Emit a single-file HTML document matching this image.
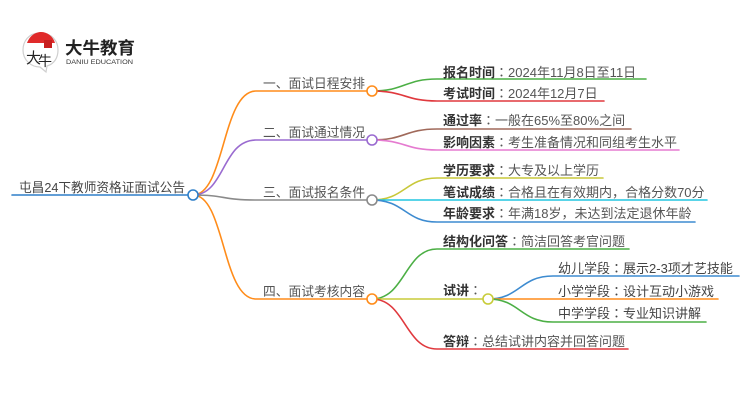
<!DOCTYPE html>
<html><head><meta charset="utf-8"><style>
html,body{margin:0;padding:0;background:#fff;}
svg{display:block;}
text{font-family:"Liberation Sans","Noto Sans CJK SC",sans-serif;}
.c{font-family:"Noto Sans CJK JP",sans-serif;}
</style></head><body>
<svg width="750" height="410" viewBox="0 0 750 410" xmlns="http://www.w3.org/2000/svg">
<!-- logo -->
<g>
  <path d="M40,33 C28,33 23,42 23,50 C23,60 31,67 40,67 L46,72 L47,66 C54,64 58,58 58,50 C58,41 52,33 40,33 Z" fill="#fff" stroke="#cfcfcf" stroke-width="1.2"/>
  <path d="M27,43 C30,35 36,32 41,32 C47,32 53,36 55,43 Z" fill="#e02a2a"/>
  <rect x="44" y="40" width="8" height="8" fill="#c81e1e"/>
  <text x="26" y="63" font-size="15" fill="#222" font-family="'Noto Serif CJK SC',serif">大</text>
  <text x="38" y="66" font-size="14" fill="#222" font-family="'Noto Serif CJK SC',serif">牛</text>
  <text x="65" y="54" font-size="17" font-weight="bold" fill="#222" textLength="70" lengthAdjust="spacingAndGlyphs">大牛教育</text>
  <text x="66" y="64" font-size="6.5" fill="#333" textLength="67" lengthAdjust="spacingAndGlyphs">DANIU EDUCATION</text>
</g>

<g fill="none" stroke-width="1.6" stroke-linecap="round">
  <line x1="12" y1="195" x2="188" y2="195" stroke="#2f7fc8"/>
  <path d="M193,195 C225,195 222,91 256,91 L367,91" stroke="#ff8c1a"/>
  <path d="M193,195 C225,195 222,140 256,140 L367,140" stroke="#9a6bd0"/>
  <path d="M193,195 C225,195 222,200 256,200 L367,200" stroke="#8a8a8a"/>
  <path d="M193,195 C225,195 222,299 256,299 L367,299" stroke="#ff8c1a"/>
  <path d="M372,91 C405,91 405,79 437,79 L646,79" stroke="#4caf45"/>
  <path d="M372,91 C405,91 405,101 437,101 L604,101" stroke="#e0393e"/>
  <path d="M372,140 C405,140 405,129 437,129 L631,129" stroke="#a0695a"/>
  <path d="M372,140 C405,140 405,150 437,150 L679,150" stroke="#e57bd0"/>
  <path d="M372,200 C405,200 405,178 437,178 L603,178" stroke="#c8c83a"/>
  <path d="M372,200 L707,200" stroke="#22c5e0"/>
  <path d="M372,200 C405,200 405,222 437,222 L695,222" stroke="#3d8bd0"/>
  <path d="M372,299 C405,299 405,249 437,249 L629,249" stroke="#4caf45"/>
  <path d="M372,299 L483,299" stroke="#c8cc3a"/>
  <path d="M372,299 C405,299 405,349 437,349 L628,349" stroke="#e0393e"/>
  <path d="M488,299 C520,299 520,276 553,276 L739,276" stroke="#3d8bd0"/>
  <path d="M488,299 L718,299" stroke="#ff8c1a"/>
  <path d="M488,299 C520,299 520,322 553,322 L706,322" stroke="#4caf45"/>
</g>

<g fill="#fff" stroke-width="1.6">
  <circle cx="193" cy="195" r="5" stroke="#2f7fc8"/>
  <circle cx="372" cy="91" r="5" stroke="#ff8c1a"/>
  <circle cx="372" cy="140" r="5" stroke="#9a6bd0"/>
  <circle cx="372" cy="200" r="5" stroke="#8a8a8a"/>
  <circle cx="372" cy="299" r="5" stroke="#ff8c1a"/>
  <circle cx="488" cy="299" r="5" stroke="#c8cc3a"/>
</g>

<g font-size="13" fill="#444">
  <text x="19" y="192" textLength="166" lengthAdjust="spacingAndGlyphs">屯昌24下教师资格证面试公告</text>
  <text x="263" y="88" fill="#555" textLength="102" lengthAdjust="spacingAndGlyphs">一、面试日程安排</text>
  <text x="263" y="137" fill="#555" textLength="102" lengthAdjust="spacingAndGlyphs">二、面试通过情况</text>
  <text x="263" y="197" fill="#555" textLength="102" lengthAdjust="spacingAndGlyphs">三、面试报名条件</text>
  <text x="263" y="296" fill="#555" textLength="102" lengthAdjust="spacingAndGlyphs">四、面试考核内容</text>
</g>

<g font-size="13" fill="#555">
  <text x="443" y="77"><tspan font-weight="bold" fill="#333">报名时间</tspan><tspan class="c">：</tspan>2024年11月8日至11日</text>
  <text x="443" y="98"><tspan font-weight="bold" fill="#333">考试时间</tspan><tspan class="c">：</tspan>2024年12月7日</text>
  <text x="443" y="125"><tspan font-weight="bold" fill="#333">通过率</tspan><tspan class="c">：</tspan>一般在65%至80%之间</text>
  <text x="443" y="147"><tspan font-weight="bold" fill="#333">影响因素</tspan><tspan class="c">：</tspan>考生准备情况和同组考生水平</text>
  <text x="443" y="175"><tspan font-weight="bold" fill="#333">学历要求</tspan><tspan class="c">：</tspan>大专及以上学历</text>
  <text x="443" y="197"><tspan font-weight="bold" fill="#333">笔试成绩</tspan><tspan class="c">：</tspan>合格且在有效期内<tspan class="c">，</tspan>合格分数70分</text>
  <text x="443" y="218"><tspan font-weight="bold" fill="#333">年龄要求</tspan><tspan class="c">：</tspan>年满18岁<tspan class="c">，</tspan>未达到法定退休年龄</text>
  <text x="443" y="246"><tspan font-weight="bold" fill="#333">结构化问答</tspan><tspan class="c">：</tspan>简洁回答考官问题</text>
  <text x="443" y="295"><tspan font-weight="bold" fill="#333">试讲</tspan><tspan class="c">：</tspan></text>
  <text x="443" y="346"><tspan font-weight="bold" fill="#333">答辩</tspan><tspan class="c">：</tspan>总结试讲内容并回答问题</text>
  <text x="558" y="273" fill="#444">幼儿学段<tspan class="c">：</tspan>展示2-3项才艺技能</text>
  <text x="558" y="296" fill="#444">小学学段<tspan class="c">：</tspan>设计互动小游戏</text>
  <text x="558" y="318" fill="#444">中学学段<tspan class="c">：</tspan>专业知识讲解</text>
</g>
</svg>
</body></html>
